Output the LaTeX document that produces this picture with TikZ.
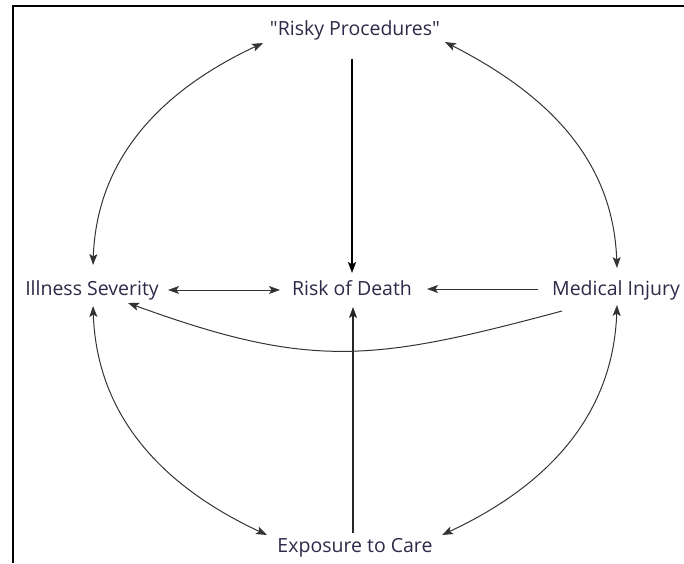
\documentclass[tikz,border=0pt]{standalone}
\usepackage{fontspec}
\setmainfont{Open Sans}[Ligatures=TeXOff]
\usepackage{xcolor}
\usetikzlibrary{arrows.meta,positioning}
\definecolor{lblcol}{RGB}{44,42,72}

\begin{document}
\begin{tikzpicture}[x=1pt,y=1pt,font=\fontsize{19.5}{22}\selectfont,
  lbl/.style={text=lblcol,inner sep=2pt,anchor=base},
  link/.style={black!80,line width=1pt},
  >={Stealth[length=11pt,width=8pt,inset=2.5pt]}]
\useasboundingbox (0,0) rectangle (684,563);
\draw[line width=2pt] (13,0) -- (13,556.5) -- (684,556.5);

\node[lbl] (risky) at (355,527) {"Risky Procedures"};
\node[lbl] (death) at (352,268) {Risk of Death};
\node[lbl] (illness) at (92,268) {Illness Severity};
\node[lbl] (medical) at (616,268) {Medical Injury};
\node[lbl] (exposure) at (355,11) {Exposure to Care};

% straight links
\draw[->,black,line width=2pt] ([xshift=-3pt,yshift=-23pt]risky.base) -- ([yshift=22pt]death.base);
\draw[->,black!85,line width=1.1pt] ([xshift=-2pt,yshift=19pt]exposure.base) -- ([xshift=1pt,yshift=-12pt]death.base);
\draw[<->,link] ([xshift=76pt,yshift=5pt]illness.base) -- ([xshift=-72pt,yshift=5pt]death.base);
\draw[->,link] ([xshift=-78pt,yshift=6pt]medical.base) -- ([xshift=75pt,yshift=6pt]death.base);

% outer arcs
\draw[<->,link] ([xshift=1pt,yshift=30pt]illness.base) to[out=88,in=205] ([xshift=-92pt,yshift=-7pt]risky.base);
\draw[<->,link] ([xshift=90pt,yshift=-6pt]risky.base) to[out=-27,in=92] ([xshift=1pt,yshift=27pt]medical.base);
\draw[<->,link] ([xshift=1pt,yshift=-11pt]illness.base) to[out=-88,in=155] ([xshift=-88pt,yshift=17pt]exposure.base);
\draw[<->,link] ([xshift=1pt,yshift=-10pt]medical.base) to[out=-92,in=25] ([xshift=87pt,yshift=17pt]exposure.base);

% lower curve
\draw[->,link] ([xshift=-54pt,yshift=-16pt]medical.base) to[out=195,in=-20,looseness=1.15] ([xshift=36pt,yshift=-8pt]illness.base);
\end{tikzpicture}
\end{document}
